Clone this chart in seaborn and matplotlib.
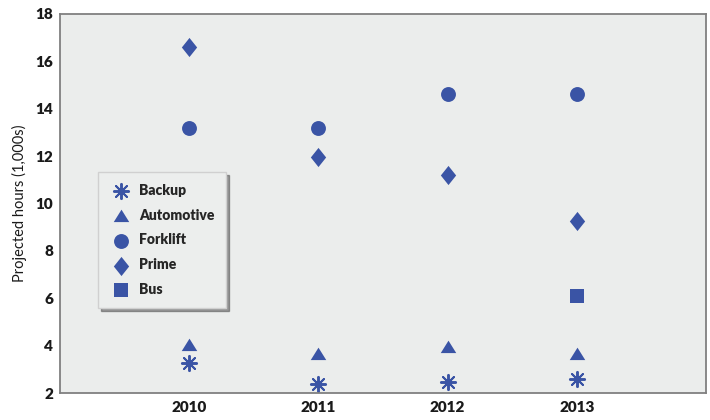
import matplotlib
matplotlib.use("Agg")
import matplotlib.pyplot as plt
import seaborn as sns
import numpy as np
import pandas as pd

# Dados
anos = [2010, 2011, 2012, 2013]
backup = [3.25, 2.4, 2.45, 2.6]
automotive = [4.05, 3.65, 3.95, 3.65]
forklift = [13.2, 13.2, 14.6, 14.6]
prime = [16.6, 11.95, 11.2, 9.25]
bus_anos = [2013]
bus = [6.1]

cor = "#3a54a5"

sns.set_style("white")
plt.rcParams['font.family'] = ['Lato', 'DejaVu Sans']

fig = plt.figure(figsize=(7.1, 4.2), dpi=100)
ax = fig.add_axes([0.0845, 0.064, 0.91, 0.903])
ax.set_facecolor("#ebedec")

# marcadores personalizados
losango = [(0, 1), (0.8, 0), (0, -1), (-0.8, 0), (0, 1)]
triangulo = [(-1, -0.72), (1, -0.72), (0, 0.88), (-1, -0.72)]

series = [
    ("Backup", anos, backup, (8, 2, 0), 120),
    ("Automotive", anos, automotive, triangulo, 125),
    ("Forklift", anos, forklift, "o", 115),
    ("Prime", anos, prime, losango, 190),
    ("Bus", bus_anos, bus, "s", 95),
]

for nome, xs, ys, m, tam in series:
    dados = pd.DataFrame({"ano": xs, "valor": ys})
    if nome == "Backup":
        sns.scatterplot(data=dados, x="ano", y="valor", marker=m, s=tam,
                        color=cor, linewidth=1.4, label=nome, ax=ax)
    else:
        sns.scatterplot(data=dados, x="ano", y="valor", marker=m, s=tam,
                        color=cor, edgecolor=cor, linewidth=0, label=nome, ax=ax)

ax.set_xlim(2009, 2014)
ax.set_ylim(2, 18)
ax.set_xticks(anos)
ax.set_yticks(np.arange(2, 19, 2))
ax.set_xlabel("")
ax.set_ylabel("Projected hours (1,000s)", fontsize=10.5, color="#1a1a1a", labelpad=6)

for lbl in ax.get_xticklabels() + ax.get_yticklabels():
    lbl.set_fontweight("heavy")
ax.tick_params(axis="both", direction="in", length=5, width=1.2,
               color="#888888", labelsize=11, labelcolor="#1a1a1a", pad=5)
ax.tick_params(axis="x", pad=6)

for lado in ax.spines.values():
    lado.set_color("#808080")
    lado.set_linewidth(1.3)

leg = ax.legend(loc="upper left", bbox_to_anchor=(0.059, 0.583), borderaxespad=0,
                frameon=True, fancybox=False, shadow=True, prop={"weight": "heavy", "size": 10},
                handlelength=1.6, handletextpad=0.5, labelspacing=0.85, borderpad=0.85,
                markerscale=1.0)
leg.get_frame().set_facecolor("#eceeed")
leg.get_frame().set_edgecolor("#d0d0d0")

fig.savefig("out.png", dpi=100)
